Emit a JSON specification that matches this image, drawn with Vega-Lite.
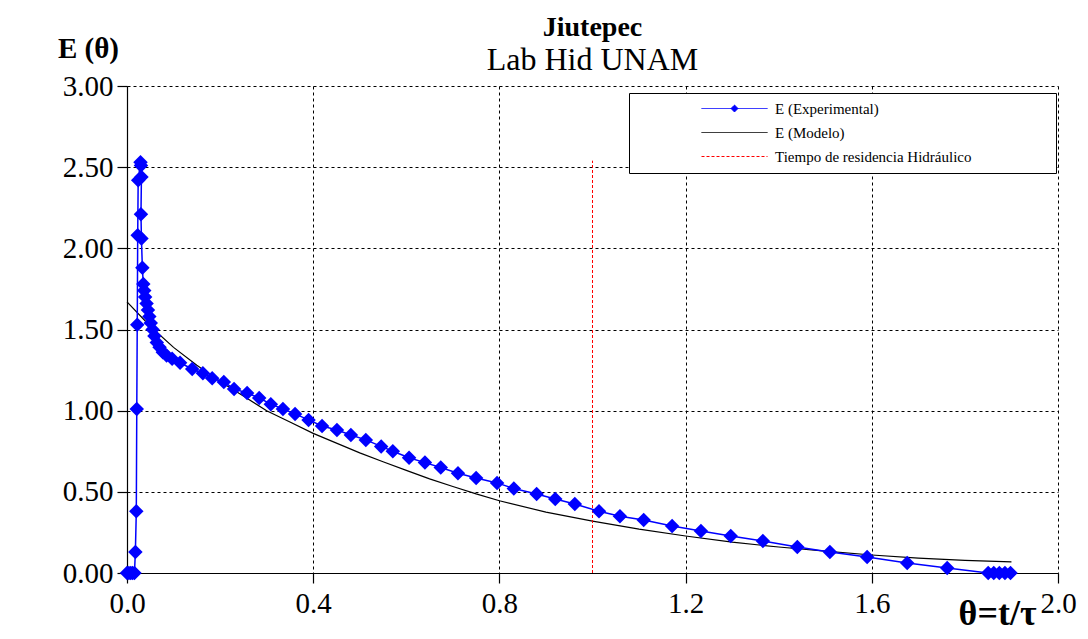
{
  "$schema": "https://vega.github.io/schema/vega-lite/v6.json",
  "width": 931,
  "height": 487,
  "autosize": "none",
  "padding": {"left": 127, "top": 86, "right": 30, "bottom": 66},
  "background": "white",
  "title": {
    "text": "Jiutepec",
    "subtitle": "Lab Hid UNAM",
    "anchor": "middle",
    "frame": "group",
    "font": "Liberation Serif",
    "fontSize": 28,
    "fontWeight": "bold",
    "color": "black",
    "subtitleFont": "Liberation Serif",
    "subtitleFontSize": 32,
    "subtitleColor": "black",
    "subtitlePadding": 3,
    "offset": -42
  },
  "datasets": {
    "exp": [
      {"i": 1, "serie": "E (Experimental)", "theta": 0.000, "E": 0},
      {"i": 2, "serie": "E (Experimental)", "theta": 0.004, "E": 0},
      {"i": 3, "serie": "E (Experimental)", "theta": 0.008, "E": 0},
      {"i": 4, "serie": "E (Experimental)", "theta": 0.012, "E": 0},
      {"i": 5, "serie": "E (Experimental)", "theta": 0.016, "E": 0},
      {"i": 6, "serie": "E (Experimental)", "theta": 0.018, "E": 0.13},
      {"i": 7, "serie": "E (Experimental)", "theta": 0.020, "E": 0.38},
      {"i": 8, "serie": "E (Experimental)", "theta": 0.021, "E": 1.01},
      {"i": 9, "serie": "E (Experimental)", "theta": 0.022, "E": 1.53},
      {"i": 10, "serie": "E (Experimental)", "theta": 0.023, "E": 2.08},
      {"i": 11, "serie": "E (Experimental)", "theta": 0.024, "E": 2.42},
      {"i": 12, "serie": "E (Experimental)", "theta": 0.029, "E": 2.53},
      {"i": 13, "serie": "E (Experimental)", "theta": 0.030, "E": 2.51},
      {"i": 14, "serie": "E (Experimental)", "theta": 0.031, "E": 2.44},
      {"i": 15, "serie": "E (Experimental)", "theta": 0.030, "E": 2.21},
      {"i": 16, "serie": "E (Experimental)", "theta": 0.031, "E": 2.06},
      {"i": 17, "serie": "E (Experimental)", "theta": 0.033, "E": 1.88},
      {"i": 18, "serie": "E (Experimental)", "theta": 0.035, "E": 1.78},
      {"i": 19, "serie": "E (Experimental)", "theta": 0.037, "E": 1.74},
      {"i": 20, "serie": "E (Experimental)", "theta": 0.039, "E": 1.70},
      {"i": 21, "serie": "E (Experimental)", "theta": 0.042, "E": 1.66},
      {"i": 22, "serie": "E (Experimental)", "theta": 0.045, "E": 1.62},
      {"i": 23, "serie": "E (Experimental)", "theta": 0.048, "E": 1.58},
      {"i": 24, "serie": "E (Experimental)", "theta": 0.051, "E": 1.54},
      {"i": 25, "serie": "E (Experimental)", "theta": 0.055, "E": 1.50},
      {"i": 26, "serie": "E (Experimental)", "theta": 0.059, "E": 1.46},
      {"i": 27, "serie": "E (Experimental)", "theta": 0.064, "E": 1.42},
      {"i": 28, "serie": "E (Experimental)", "theta": 0.070, "E": 1.39},
      {"i": 29, "serie": "E (Experimental)", "theta": 0.077, "E": 1.36},
      {"i": 30, "serie": "E (Experimental)", "theta": 0.085, "E": 1.34},
      {"i": 31, "serie": "E (Experimental)", "theta": 0.097, "E": 1.32},
      {"i": 32, "serie": "E (Experimental)", "theta": 0.114, "E": 1.295},
      {"i": 33, "serie": "E (Experimental)", "theta": 0.140, "E": 1.257},
      {"i": 34, "serie": "E (Experimental)", "theta": 0.163, "E": 1.23},
      {"i": 35, "serie": "E (Experimental)", "theta": 0.183, "E": 1.20},
      {"i": 36, "serie": "E (Experimental)", "theta": 0.208, "E": 1.177},
      {"i": 37, "serie": "E (Experimental)", "theta": 0.230, "E": 1.134},
      {"i": 38, "serie": "E (Experimental)", "theta": 0.258, "E": 1.109},
      {"i": 39, "serie": "E (Experimental)", "theta": 0.284, "E": 1.078},
      {"i": 40, "serie": "E (Experimental)", "theta": 0.309, "E": 1.04},
      {"i": 41, "serie": "E (Experimental)", "theta": 0.335, "E": 1.01},
      {"i": 42, "serie": "E (Experimental)", "theta": 0.361, "E": 0.98},
      {"i": 43, "serie": "E (Experimental)", "theta": 0.390, "E": 0.943},
      {"i": 44, "serie": "E (Experimental)", "theta": 0.419, "E": 0.906},
      {"i": 45, "serie": "E (Experimental)", "theta": 0.451, "E": 0.881},
      {"i": 46, "serie": "E (Experimental)", "theta": 0.481, "E": 0.85},
      {"i": 47, "serie": "E (Experimental)", "theta": 0.513, "E": 0.82},
      {"i": 48, "serie": "E (Experimental)", "theta": 0.546, "E": 0.78},
      {"i": 49, "serie": "E (Experimental)", "theta": 0.571, "E": 0.75},
      {"i": 50, "serie": "E (Experimental)", "theta": 0.606, "E": 0.71},
      {"i": 51, "serie": "E (Experimental)", "theta": 0.640, "E": 0.68},
      {"i": 52, "serie": "E (Experimental)", "theta": 0.674, "E": 0.65},
      {"i": 53, "serie": "E (Experimental)", "theta": 0.711, "E": 0.615},
      {"i": 54, "serie": "E (Experimental)", "theta": 0.750, "E": 0.585},
      {"i": 55, "serie": "E (Experimental)", "theta": 0.795, "E": 0.555},
      {"i": 56, "serie": "E (Experimental)", "theta": 0.831, "E": 0.52},
      {"i": 57, "serie": "E (Experimental)", "theta": 0.880, "E": 0.487},
      {"i": 58, "serie": "E (Experimental)", "theta": 0.920, "E": 0.456},
      {"i": 59, "serie": "E (Experimental)", "theta": 0.962, "E": 0.425},
      {"i": 60, "serie": "E (Experimental)", "theta": 1.014, "E": 0.38},
      {"i": 61, "serie": "E (Experimental)", "theta": 1.059, "E": 0.35},
      {"i": 62, "serie": "E (Experimental)", "theta": 1.110, "E": 0.327},
      {"i": 63, "serie": "E (Experimental)", "theta": 1.171, "E": 0.29},
      {"i": 64, "serie": "E (Experimental)", "theta": 1.233, "E": 0.259},
      {"i": 65, "serie": "E (Experimental)", "theta": 1.297, "E": 0.228},
      {"i": 66, "serie": "E (Experimental)", "theta": 1.366, "E": 0.197},
      {"i": 67, "serie": "E (Experimental)", "theta": 1.440, "E": 0.16},
      {"i": 68, "serie": "E (Experimental)", "theta": 1.510, "E": 0.129},
      {"i": 69, "serie": "E (Experimental)", "theta": 1.590, "E": 0.099},
      {"i": 70, "serie": "E (Experimental)", "theta": 1.676, "E": 0.062},
      {"i": 71, "serie": "E (Experimental)", "theta": 1.762, "E": 0.031},
      {"i": 72, "serie": "E (Experimental)", "theta": 1.850, "E": 0},
      {"i": 73, "serie": "E (Experimental)", "theta": 1.862, "E": 0},
      {"i": 74, "serie": "E (Experimental)", "theta": 1.874, "E": 0},
      {"i": 75, "serie": "E (Experimental)", "theta": 1.886, "E": 0},
      {"i": 76, "serie": "E (Experimental)", "theta": 1.898, "E": 0}
    ],
    "model": [
      {"serie": "E (Modelo)", "theta": 0.0, "E": 1.67},
      {"serie": "E (Modelo)", "theta": 0.05, "E": 1.52},
      {"serie": "E (Modelo)", "theta": 0.1, "E": 1.39},
      {"serie": "E (Modelo)", "theta": 0.15, "E": 1.28},
      {"serie": "E (Modelo)", "theta": 0.2, "E": 1.18},
      {"serie": "E (Modelo)", "theta": 0.25, "E": 1.09},
      {"serie": "E (Modelo)", "theta": 0.3, "E": 1.0},
      {"serie": "E (Modelo)", "theta": 0.35, "E": 0.93},
      {"serie": "E (Modelo)", "theta": 0.4, "E": 0.86},
      {"serie": "E (Modelo)", "theta": 0.45, "E": 0.80},
      {"serie": "E (Modelo)", "theta": 0.5, "E": 0.74},
      {"serie": "E (Modelo)", "theta": 0.55, "E": 0.685},
      {"serie": "E (Modelo)", "theta": 0.6, "E": 0.632},
      {"serie": "E (Modelo)", "theta": 0.65, "E": 0.58},
      {"serie": "E (Modelo)", "theta": 0.7, "E": 0.533},
      {"serie": "E (Modelo)", "theta": 0.75, "E": 0.487},
      {"serie": "E (Modelo)", "theta": 0.8, "E": 0.445},
      {"serie": "E (Modelo)", "theta": 0.9, "E": 0.375},
      {"serie": "E (Modelo)", "theta": 1.0, "E": 0.32},
      {"serie": "E (Modelo)", "theta": 1.1, "E": 0.27},
      {"serie": "E (Modelo)", "theta": 1.2, "E": 0.228},
      {"serie": "E (Modelo)", "theta": 1.3, "E": 0.19},
      {"serie": "E (Modelo)", "theta": 1.4, "E": 0.16},
      {"serie": "E (Modelo)", "theta": 1.5, "E": 0.135},
      {"serie": "E (Modelo)", "theta": 1.6, "E": 0.111},
      {"serie": "E (Modelo)", "theta": 1.7, "E": 0.092},
      {"serie": "E (Modelo)", "theta": 1.8, "E": 0.078},
      {"serie": "E (Modelo)", "theta": 1.9, "E": 0.068}
    ],
    "trh": [
      {"serie": "Tiempo de residencia Hidráulico", "theta": 1.0, "E0": 0, "E1": 2.54}
    ]
  },
  "layer": [
    {
      "data": {"name": "model"},
      "mark": {"type": "line", "strokeWidth": 1.2},
      "encoding": {
        "x": {"field": "theta", "type": "quantitative"},
        "y": {"field": "E", "type": "quantitative"},
        "color": {"field": "serie", "type": "nominal"}
      }
    },
    {
      "data": {"name": "trh"},
      "mark": {"type": "rule", "strokeDash": [3, 2], "strokeWidth": 1},
      "encoding": {
        "x": {"field": "theta", "type": "quantitative"},
        "y": {"field": "E0", "type": "quantitative"},
        "y2": {"field": "E1"},
        "color": {"field": "serie", "type": "nominal"}
      }
    },
    {
      "data": {"name": "exp"},
      "mark": {"type": "line", "strokeWidth": 1.5, "point": {"shape": "diamond", "size": 210, "filled": true, "color": "#0000ff", "opacity": 1}},
      "encoding": {
        "x": {"field": "theta", "type": "quantitative"},
        "y": {"field": "E", "type": "quantitative"},
        "order": {"field": "i", "type": "quantitative"},
        "color": {"field": "serie", "type": "nominal"}
      }
    }
  ],
  "resolve": {"scale": {"color": "shared"}},
  "encoding": {
    "x": {
      "field": "theta", "type": "quantitative",
      "scale": {"domain": [0, 2], "nice": false, "zero": true},
      "axis": {
        "values": [0, 0.4, 0.8, 1.2, 1.6, 2.0],
        "format": ".1f",
        "labelFlush": false,
        "title": "θ=t/τ",
        "titleFont": "Liberation Serif",
        "titleFontSize": 36,
        "titleFontWeight": "bold",
        "titleColor": "black",
        "titleAlign": "right",
        "titleBaseline": "middle",
        "titleAnchor": null,
        "titleX": 909,
        "titleY": 40
      }
    },
    "y": {
      "field": "E", "type": "quantitative",
      "scale": {"domain": [0, 3], "nice": false},
      "axis": {
        "values": [0, 0.5, 1, 1.5, 2, 2.5, 3],
        "format": ".2f",
        "labelFlush": false,
        "title": "E (θ)",
        "titleFont": "Liberation Serif",
        "titleFontSize": 29,
        "titleFontWeight": "bold",
        "titleColor": "black",
        "titleAngle": 0,
        "titleAlign": "center",
        "titleBaseline": "middle",
        "titleX": -39,
        "titleY": -38
      }
    },
    "color": {
      "field": "serie", "type": "nominal",
      "scale": {
        "domain": ["E (Experimental)", "E (Modelo)", "Tiempo de residencia Hidráulico"],
        "range": ["#0000ff", "#000000", "#ff0000"]
      },
      "legend": {
        "title": "MMMMMI",
        "titleOrient": "right",
        "titleFontSize": 15,
        "titleOpacity": 0,
        "titlePadding": 0,
        "orient": "none",
        "legendX": 502,
        "legendY": 7,
        "fillColor": "white",
        "strokeColor": "black",
        "padding": 8,
        "symbolSize": 100,
        "symbolOffset": 90,
        "labelOffset": 33,
        "rowPadding": 8,
        "labelFont": "Liberation Serif",
        "labelFontSize": 15,
        "labelColor": "black",
        "labelLimit": 0,
        "encode": {
          "symbols": {
            "update": {
              "shape": {"signal": "datum.value === 'E (Experimental)' ? 'M-6.6,0L6.6,0M0,-0.7L0.7,0L0,0.7L-0.7,0Z' : 'M-6.6,0L6.6,0'"},
              "fill": {"signal": "datum.value === 'E (Experimental)' ? '#0000ff' : 'transparent'"},
              "stroke": {"signal": "datum.value === 'E (Experimental)' ? '#0000ff' : (datum.value === 'E (Modelo)' ? '#000000' : '#ff0000')"},
              "strokeDash": {"signal": "indexof(datum.value, 'Tiempo') === 0 ? [3, 2] : [1, 0]"},
              "strokeWidth": {"value": 1},
              "opacity": {"value": 1}
            }
          }
        }
      }
    }
  },
  "config": {
    "font": "Liberation Serif",
    "view": {"stroke": null},
    "axis": {
      "labelFont": "Liberation Serif",
      "labelFontSize": 29,
      "labelColor": "black",
      "domainColor": "black",
      "domainWidth": 1.2,
      "tickColor": "black",
      "tickSize": 10,
      "tickWidth": 1.2,
      "grid": true,
      "gridColor": "black",
      "gridDash": [3, 3],
      "gridWidth": 1,
      "gridOpacity": 1,
      "labelPadding": 4
    },
    "axisX": {"labelPadding": 6},
    "axisY": {"labelPadding": 4}
  }
}
